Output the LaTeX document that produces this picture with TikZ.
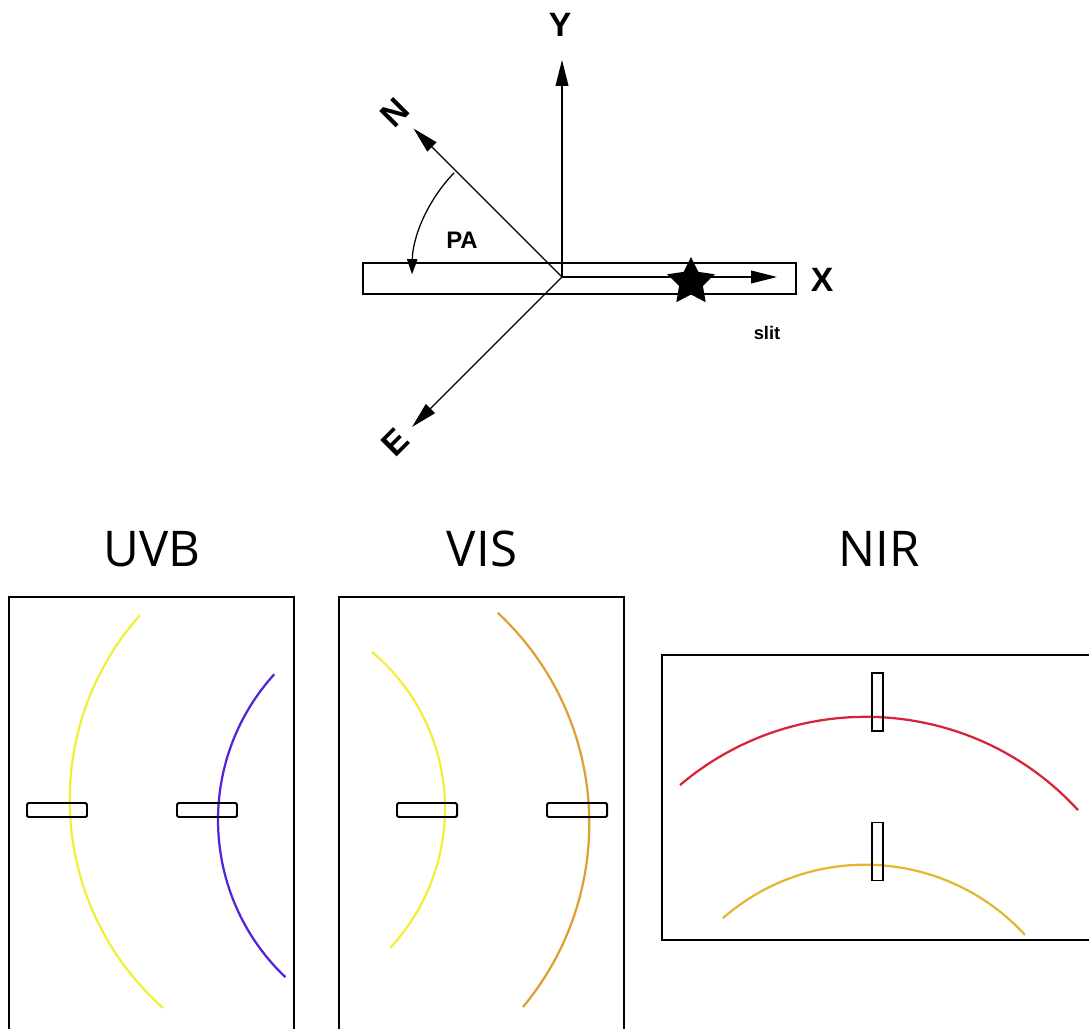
\documentclass[tikz,border=0pt]{standalone}
\usepackage{fontspec}
\setmainfont{Liberation Sans}
\newfontfamily\bandfont{Open Sans}
\usetikzlibrary{arrows.meta, shapes.geometric}
\definecolor{ordyel}{HTML}{F2EE3C}
\definecolor{ordpur}{HTML}{5424D6}
\definecolor{ordorg}{HTML}{DDA032}
\definecolor{ordred}{HTML}{D8243A}
\definecolor{ordgld}{HTML}{E6B534}
\tikzset{
  ax/.style={-{Triangle[length=6.5mm, width=3.2mm]}, line width=0.9pt},
  pa/.style={-{Triangle[length=3.8mm, width=2.6mm]}, line width=0.9pt},
  tlab/.style={font=\bfseries\fontsize{24}{28}\selectfont, inner sep=0pt},
  slab/.style={font=\bfseries\fontsize{#1}{#1}\selectfont, inner sep=0pt},
  slitbar/.style={draw, line width=1.6pt, minimum width=10.825cm,
                  minimum height=0.775cm, inner sep=0pt},
  hslit/.style={draw, line width=1.4pt, rounded corners=1pt, inner sep=0pt,
                minimum width=1.5cm, minimum height=0.35cm},
  vslit/.style={draw, line width=1.4pt, inner sep=0pt,
                minimum width=0.28cm, minimum height=1.45cm},
  pbox/.style={draw, line width=1.6pt},
  ord/.style={draw=#1, line width=1.6pt},
  band/.style={font=\bandfont\fontsize{35}{40}\selectfont, inner sep=0pt},
}

\begin{document}
\begin{tikzpicture}[x=0.025cm, y=0.025cm]
\useasboundingbox (0,0) rectangle (1089,1028);
\clip (0,0) rectangle (1089,1028);

%% ============================================================
%% SKY FRAME AND SLIT (top)
%% ============================================================
\coordinate (O) at (562,751);
\node[slitbar] (slit) at (579.5,749.5) {};

\coordinate (ytip) at (562,968);
\coordinate (xtip) at (777,751);
\coordinate (ntip) at ([shift={(135:210)}]O);
\coordinate (etip) at ([shift={(225:212)}]O);

\draw[ax] (O) -- (ytip);
\draw[ax] (O) -- (xtip);
\draw[ax] (O) -- (ntip);
\draw[ax] (O) -- (etip);

\node[tlab] (ylab) at (560,1003) {Y};
\node[tlab] (xlab) at (822,748) {X};
\node[tlab, rotate=45] (nlab) at (395,915) {N};
\node[tlab, rotate=45] (elab) at (395,586) {E};

%% position angle
\draw[pa] ([shift={(136:150)}]O) arc[start angle=136, end angle=179, radius=150];
\node[slab=17] (palab) at (462,788) {PA};

\node[star, star points=5, star point ratio=2.0, fill=black,
      minimum size=1.25cm, inner sep=0pt] (src) at (691,746) {};
\node[slab=13] (slitlab) at (767,695) {slit};

%% ============================================================
%% UVB
%% ============================================================
\node[band] (uvb) at (152,479) {UVB};
\draw[pbox] (9,-10) -- (9,431) -- (294,431) -- (294,-10);

\draw[ord=ordyel] ([shift={(138.4:278.5)}]348.2,228) arc[start angle=138.4, end angle=228.3, radius=278.5];
\draw[ord=ordpur] ([shift={(137.8:217)}]435,208) arc[start angle=137.8, end angle=226.4, radius=217];

\node[hslit] (us1) at (57,218) {};
\node[hslit] (us2) at (207,218) {};

%% ============================================================
%% VIS
%% ============================================================
\node[band] (vis) at (482,479) {VIS};
\draw[pbox] (339,-10) -- (339,431) -- (624,431) -- (624,-10);

\draw[ord=ordyel] ([shift={(50:204.4)}]240.6,219.5) arc[start angle=50, end angle=-43, radius=204.4];
\draw[ord=ordorg] ([shift={(47:287.7)}]301.6,204.7) arc[start angle=47, end angle=-39.7, radius=287.7];

\node[hslit] (vs1) at (427,218) {};
\node[hslit] (vs2) at (577,218) {};

%% ============================================================
%% NIR
%% ============================================================
\node[band] (nir) at (879,479) {NIR};
\draw[pbox] (1100,373) -- (662,373) -- (662,88) -- (1100,88);

\draw[ord=ordred] ([shift={(130.3:287.6)}]866,23.6) arc[start angle=130.3, end angle=42.5, radius=287.6];
\draw[ord=ordgld] ([shift={(131.1:216.6)}]865.3,-53.3) arc[start angle=131.1, end angle=42.5, radius=216.6];

\node[vslit] (ns1) at (877.5,326) {};
\node[vslit] (ns2) at (877.5,176.5) {};

\end{tikzpicture}
\end{document}
